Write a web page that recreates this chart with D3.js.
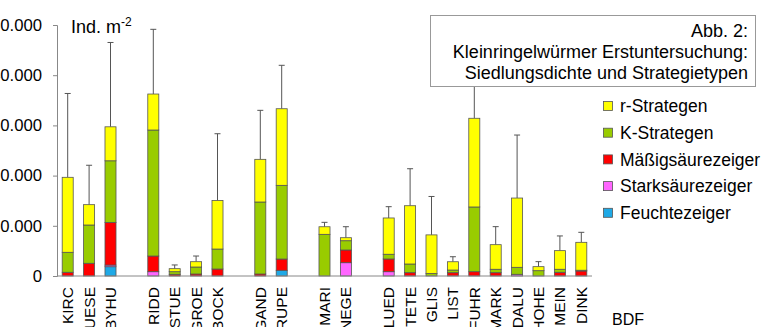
<!DOCTYPE html>
<html><head><meta charset="utf-8">
<script src="https://cdn.jsdelivr.net/npm/d3@7"></script>
<style>
html,body{margin:0;padding:0;background:#fff;}
svg{display:block;font-family:"Liberation Sans",Arial,sans-serif;}
</style></head>
<body><svg id="c" width="761" height="327"></svg>
<script>
// "" entries are empty gap slots between groups
const categories = ["KIRC","UESE","BYHU","","RIDD","STUE","GROE","BOCK","","GAND","RUPE","","MARI","NEGE","","LUED","TETE","GLIS","LIST","FUHR","MARK","DALU","HOHE","MEIN","DINK"];
const feuchtezeiger     = [0,0,1850,0,0,0,0,0,0,0,1130,0,0,0,0,0,0,0,0,0,0,0,0,0,0];
const starksaeurezeiger = [0,0,330,0,860,0,0,0,0,0,0,0,0,2650,0,860,0,0,0,0,0,340,0,0,0];
const maessigsaeurezeiger=[740,2530,8500,0,3120,340,400,1390,0,400,2250,0,0,2530,0,2530,660,0,660,860,660,0,0,740,1000];
const kStrategen        = [3980,7630,12270,0,25100,520,1390,3980,0,14340,14680,0,8300,1850,0,940,1730,500,530,12890,680,1390,1060,600,150];
const rStrategen        = [14940,4050,6770,0,7170,600,1060,9680,0,8500,15260,0,1510,600,0,7230,11610,7690,1650,17670,4900,13800,800,3710,5560];
const errorUp           = [16700,7850,16800,0,12890,740,1130,13290,0,9760,8650,0,880,2190,0,2250,7370,7650,1000,9000,3590,12550,1000,2930,1990];
const yTicks = [0,10000,20000,30000,40000,50000];
const seriesNames = ["Feuchtezeiger","Starksäurezeiger","Mäßigsäurezeiger","K-Strategen","r-Strategen"];
const seriesColors = ["#1fa9e6","#ff66ff","#ff0000","#99cc00","#ffff00"];
const seriesData = [feuchtezeiger,starksaeurezeiger,maessigsaeurezeiger,kStrategen,rStrategen];
const titleLines = ["Abb. 2:","Kleinringelwürmer Erstuntersuchung:","Siedlungsdichte und Strategietypen"];

const svg = d3.select("#c");
const x = d3.scaleBand().domain(d3.range(categories.length)).range([57,592]).paddingInner(0.485).paddingOuter(0.2425);
const y = d3.scaleLinear().domain([0,50000]).range([276,25]);
const loc = d3.formatLocale({decimal:",",thousands:".",grouping:[3],currency:["",""]});
const fmt = loc.format(",");

// stacked data
const rows = categories.map((c,i)=>{const o={i};seriesNames.forEach((s,k)=>o[s]=seriesData[k][i]);return o;});
const stack = d3.stack().keys(seriesNames)(rows);

// error bars
const g = svg.append("g");
rows.forEach((r,i)=>{
  if(!categories[i]) return;
  const tot = d3.sum(seriesData,s=>s[i]);
  const cx = x(i)+x.bandwidth()/2;
  g.append("line").attr("x1",cx).attr("x2",cx).attr("y1",y(tot)).attr("y2",y(tot+errorUp[i])).attr("stroke","#555").attr("stroke-width",1);
  g.append("line").attr("x1",cx-3).attr("x2",cx+3).attr("y1",y(tot+errorUp[i])).attr("y2",y(tot+errorUp[i])).attr("stroke","#555").attr("stroke-width",1);
});

// bars
stack.forEach((layer,k)=>{
  svg.append("g").selectAll("rect").data(layer.filter(d=>categories[d.data.i] && d[1]>d[0])).join("rect")
    .attr("x",d=>x(d.data.i)).attr("width",x.bandwidth())
    .attr("y",d=>y(d[1])).attr("height",d=>y(d[0])-y(d[1]))
    .attr("fill",seriesColors[k]).attr("stroke","#555").attr("stroke-width",0.8);
});

// axes
const ya = svg.append("g").attr("transform","translate(57,0)")
  .call(d3.axisLeft(y).tickValues(yTicks).tickFormat(fmt).tickSize(4).tickPadding(11));
ya.select(".domain").attr("stroke","#888");
ya.selectAll(".tick line").attr("stroke","#888");
ya.selectAll("text").attr("font-size","16.7px").attr("fill","#000").attr("font-family","Liberation Sans, Arial, sans-serif");
svg.append("line").attr("x1",57).attr("x2",592).attr("y1",y(0)).attr("y2",y(0)).attr("stroke","#888");

// category labels
svg.append("g").selectAll("text").data(categories.map((c,i)=>({c,i})).filter(d=>d.c)).join("text")
  .attr("transform",d=>`translate(${x(d.i)+x.bandwidth()/2},287) rotate(-90)`)
  .attr("text-anchor","end").attr("dy","0.36em").attr("font-size","15.5px").text(d=>d.c);

// unit
const u = svg.append("text").attr("x",71).attr("y",33).attr("font-size","18px");
u.append("tspan").text("Ind. m");
u.append("tspan").attr("font-size","12px").attr("dy","-7").text("-2");

// legend
const leg = svg.append("g");
const legOrder = [4,3,2,1,0];
legOrder.forEach((k,j)=>{
  const cy = 106 + j*26.7;
  leg.append("rect").attr("x",603.5).attr("y",cy-4.5).attr("width",9).attr("height",9).attr("fill",seriesColors[k]).attr("stroke","#555").attr("stroke-width",0.8);
  leg.append("text").attr("x",620).attr("y",cy).attr("dy","0.36em").attr("font-size","17.5px").text(seriesNames[k]);
});

// BDF
svg.append("text").attr("x",612).attr("y",325).attr("font-size","16px").text("BDF");

// title box
svg.append("rect").attr("x",430.5).attr("y",15.5).attr("width",325).attr("height",71).attr("fill","#fff").attr("stroke","#999");
titleLines.forEach((t,j)=>{
  svg.append("text").attr("x",748).attr("y",36.5+j*21.3).attr("text-anchor","end").attr("font-size","18px").text(t);
});
</script></body></html>
